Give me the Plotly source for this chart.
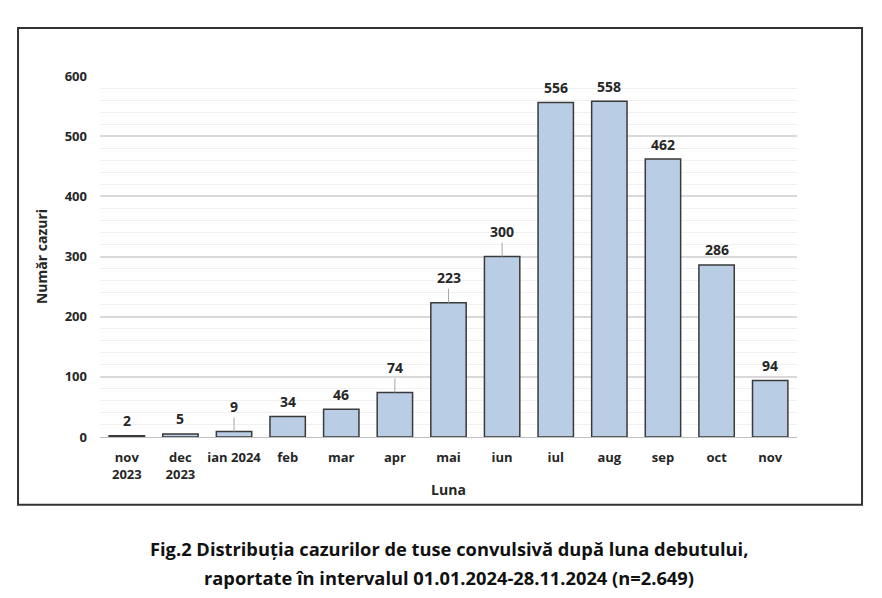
import plotly.graph_objects as go

# Monthly cases of pertussis by onset month
months = ["nov<br>2023", "dec<br>2023", "ian 2024", "feb", "mar", "apr", "mai",
          "iun", "iul", "aug", "sep", "oct", "nov"]
cases = [2, 5, 9, 34, 46, 74, 223, 300, 556, 558, 462, 286, 94]
# labels drawn with a short leader line in the original
leader = ["ian 2024", "apr", "mai", "iun"]

FONT = "Open Sans"
TXT = "#262626"

fig = go.Figure()
fig.add_trace(go.Bar(
    x=months, y=cases,
    marker=dict(color="#B9CDE5", line=dict(color="#3a3a3a", width=1.5)),
    width=0.66,
    hoverinfo="x+y",
))

annotations = []
for m, v in zip(months, cases):
    if m in leader:
        annotations.append(dict(
            x=m, y=v, xref="x", yref="y", text=f"<b>{v}</b>",
            showarrow=True, arrowhead=0, arrowwidth=1, arrowcolor="#a6a6a6",
            ax=0, ay=-25, standoff=0, startstandoff=0,
            font=dict(family=FONT, size=14, color=TXT),
        ))
    else:
        annotations.append(dict(
            x=m, y=v, xref="x", yref="y", text=f"<b>{v}</b>",
            showarrow=False, yshift=15,
            font=dict(family=FONT, size=14, color=TXT),
        ))

cap_font = dict(family=FONT, size=18.3, color="#111111")
annotations.append(dict(
    x=0.5, y=-0.31, xref="paper", yref="paper", xanchor="center", yanchor="middle",
    text="<b>Fig.2 Distribuția cazurilor de tuse convulsivă după luna debutului,</b>",
    showarrow=False, font=cap_font,
))
annotations.append(dict(
    x=0.5, y=-0.39, xref="paper", yref="paper", xanchor="center", yanchor="middle",
    text="<b>raportate în intervalul 01.01.2024-28.11.2024 (n=2.649)</b>",
    showarrow=False, font=cap_font,
))

fig.update_layout(
    width=882, height=598,
    margin=dict(l=92, r=93, t=68, b=169),
    paper_bgcolor="white", plot_bgcolor="white",
    showlegend=False,
    bargap=0.34,
    annotations=annotations,
    font=dict(family=FONT, color=TXT),
    shapes=[dict(
        type="rect", xref="paper", yref="paper",
        x0=-0.1176, x1=1.0933, y0=-0.188, y1=1.133,
        line=dict(color="#333333", width=2), fillcolor="rgba(0,0,0,0)",
    )],
)

fig.update_xaxes(
    tickfont=dict(family=FONT, size=13, color=TXT, weight="bold"),
    showline=True, linecolor="#bfbfbf", linewidth=1,
    ticks="", ticklabelstandoff=8,
    title=dict(text="<b>Luna</b>", font=dict(family=FONT, size=14, color=TXT),
               standoff=3),
)
fig.update_yaxes(
    range=[0, 600], dtick=100,
    tickfont=dict(family=FONT, size=13, color=TXT, weight="bold"),
    showgrid=True, gridcolor="#d9d9d9", gridwidth=1.5,
    minor=dict(dtick=20, showgrid=True, gridcolor="#f0f0f0", gridwidth=1),
    zeroline=False, ticks="", ticklabelstandoff=12,
    title=dict(text="<b>Număr cazuri</b>", font=dict(family=FONT, size=14, color=TXT),
               standoff=13),
)

fig.write_html("out.html")
